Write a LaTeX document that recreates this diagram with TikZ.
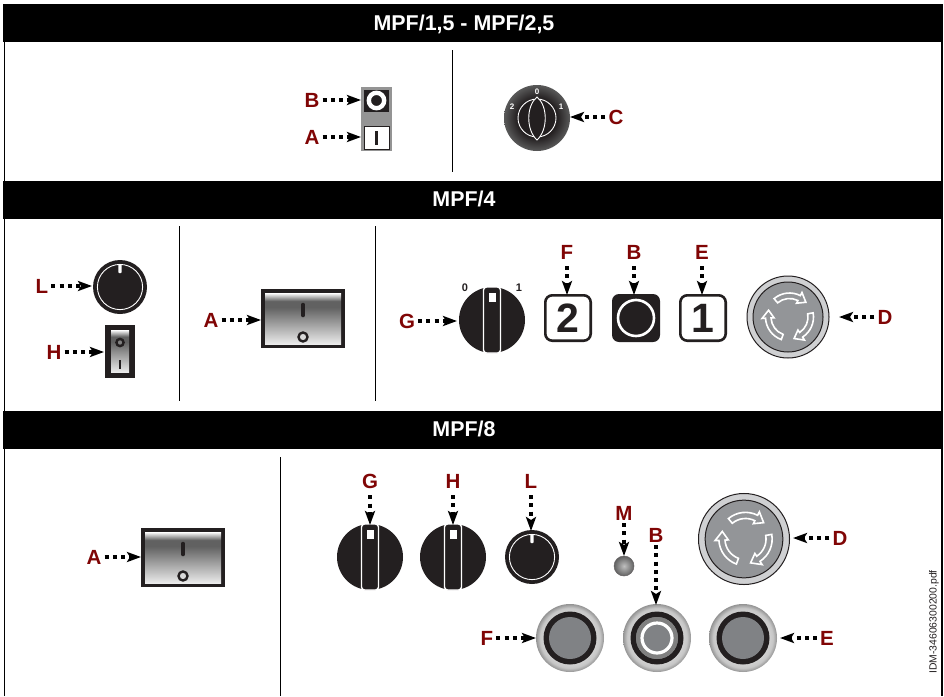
\documentclass[tikz,border=0pt]{standalone}
\usepackage{fontspec}
\setmainfont{Liberation Sans}
\usetikzlibrary{arrows.meta}
\definecolor{ink}{HTML}{231F20}
\definecolor{lab}{HTML}{800505}
\definecolor{mid}{HTML}{939598}
\definecolor{ringg}{HTML}{CFD0D2}
\definecolor{btn}{HTML}{808285}
\pgfdeclareverticalshading{rockshade}{100bp}{color(0bp)=(white); color(25bp)=(white!92!black); color(61bp)=(black!62); color(67bp)=(black!62); color(75bp)=(white); color(100bp)=(white)}
\pgfdeclareradialshading{knobshade}{\pgfpointorigin}{color(0bp)=(ink); color(15bp)=(ink); color(25bp)=(black!65); color(50bp)=(black!65)}
\pgfdeclareradialshading{haloshade}{\pgfpointorigin}{color(0bp)=(black!20); color(19bp)=(black!18); color(22bp)=(black!22); color(25bp)=(black!42); color(50bp)=(black!42)}
\pgfdeclareradialshading{ledshade}{\pgfpointorigin}{color(0bp)=(black!25); color(25bp)=(black!62); color(50bp)=(black!62)}
\tikzset{
  lbl/.style={font=\fontsize{20.5}{21}\selectfont\bfseries,text=lab,inner sep=3pt},
  head/.style={font=\fontsize{21.4}{22}\selectfont\bfseries,text=white,inner sep=0pt},
  arr/.style={line width=3.4pt,dash pattern=on 4pt off 4.2pt,-{Stealth[length=14pt,width=10pt,inset=3pt]}},
  arrv/.style={arr,shorten <=4pt},
  divider/.style={line width=1pt,black},
  frameline/.style={line width=1.2pt,black},
  band/.style={fill=black},
  numw/.style={font=\fontsize{8}{8}\selectfont\bfseries,text=white,inner sep=0pt},
  numb/.style={font=\fontsize{11}{11}\selectfont\bfseries,text=ink,inner sep=0pt},
  digit/.style={font=\fontsize{41}{41}\selectfont\bfseries,text=ink,inner sep=0pt}
}
% rocker switch, top-left corner at #1,#2
\newcommand{\rockerSw}[2]{\begin{scope}[shift={(#1,#2)}]
  \fill[ink] (0,0) rectangle (84,59);
  \shade[shading=rockshade] (4,4) rectangle (80,55);
  \draw[ink,line width=3.5pt,line cap=round] (42,15.5) -- (42,26.5);
  \draw[ink,fill=white!85!black,line width=2.4pt] (42,48) circle (4.5);
\end{scope}}
% pointer knob with handle, centre at #1,#2
\newcommand{\handleKnob}[2]{\begin{scope}[shift={(#1,#2)}]
  \fill[ink] (0,0) circle (33);
  \draw[white,line width=1.4pt,fill=ink,rounded corners=3pt] (-8.5,-33) rectangle (8.5,33);
  \fill[white] (-3.5,-27.5) rectangle (3.5,-18.5);
\end{scope}}
% small round knob, centre at #1,#2
\newcommand{\roundKnob}[2]{\begin{scope}[shift={(#1,#2)}]
  \fill[ink] (0,0) circle (27);
  \draw[white,line width=.9pt] (0,0) circle (22.6);
  \fill[white,rounded corners=.8pt] (-1.6,-23) rectangle (1.6,-14);
\end{scope}}
% emergency button
\newcommand{\rotArrow}{\draw[white,line width=1.6pt,fill=mid,line join=miter]
  (130:18.5) arc[start angle=130,end angle=63,radius=18.5] -- (63:15.5) -- (42:22) -- (63:27.5) -- (63:24)
  arc[start angle=63,end angle=130,radius=24] -- cycle;}
\newcommand{\emergency}[3]{\begin{scope}[shift={(#1,#2)}]
  \fill[ringg,draw=ink,line width=1pt] (0,0) circle (41*#3);
  \fill[mid,draw=ink,line width=1pt] (0,0) circle (35*#3);
  \begin{scope}[shift={(1.5,0)},yscale=-1,scale=#3]
    \rotArrow
    \begin{scope}[rotate=-120]\rotArrow\end{scope}
    \begin{scope}[rotate=120]\rotArrow\end{scope}
  \end{scope}
\end{scope}}
% panel push-button, centre at #1,#2
\newcommand{\panelBtn}[2]{\begin{scope}[shift={(#1,#2)}]
  \shade[shading=haloshade] (0,0) circle (34);
  \fill[ink] (0,0) circle (26.5);
  \fill[btn] (0,0) circle (21);
\end{scope}}
% square numbered button, left-top at #1,#2
\newcommand{\squareBtn}[3]{\begin{scope}[shift={(#1,#2)}]
  \draw[ink,line width=2.6pt,fill=white,rounded corners=7pt] (1.3,1.3) rectangle (46.7,46.7);
  \node[digit] (#3) at (24,24.5) {#3};
\end{scope}}
\begin{document}
\begin{tikzpicture}[x=1pt,y=-1pt]
\useasboundingbox (0,0) rectangle (944,696);
\fill[white] (0,0) rectangle (944,696);
% frame and bands
\coordinate (ftl) at (4.5,42); \coordinate (fbl) at (4.5,696);
\coordinate (ftr) at (942,42); \coordinate (fbr) at (942,696);
\draw[frameline] (ftl) -- (fbl);
\draw[frameline] (ftr) -- (fbr);
\fill[band] (3,4) rectangle (943,42);
\fill[band] (3,181) rectangle (943,219);
\fill[band] (3,411) rectangle (943,449);
\node[head] (h1) at (464,24) {MPF/1,5 - MPF/2,5};
\node[head] (h2) at (464,199) {MPF/4};
\node[head] (h3) at (464,429) {MPF/8};
% dividers
\draw[divider] (452.5,50) -- (452.5,172);
\draw[divider] (179.5,226) -- (179.5,401);
\draw[divider] (375.5,226) -- (375.5,401);
\draw[divider] (280.5,457) -- (280.5,696);

% ---- section 1
\fill[black!42] (361,87) rectangle (392,151);
\fill[ink] (364,90) rectangle (389,112);
\draw[white,line width=4.4pt,fill=ink] (376.5,100.5) circle (7.7);
\fill[black!42] (364,112) rectangle (389,125.5);
\draw[ink,line width=1pt,fill=white] (364,126.5) rectangle (389,149);
\fill[ink] (375.2,131) rectangle (378,145);
\shade[shading=knobshade] (537,118) circle (33);
\draw[white,line width=.9pt] (537,118) circle (19);
\draw[white,line width=.9pt,fill=ink] (537,97) .. controls (526,106) and (526,130) .. (537,140) .. controls (548,130) and (548,106) .. (537,97) -- cycle;
\node[numw] (n0) at (537,91.5) {0};
\node[numw] (n1) at (561,107) {1};
\node[numw] (n2) at (512,107) {2};

\node[lbl] (lb1) at (312,100) {B};
\node[lbl] (la1) at (312,137) {A};
\node[lbl] (lc1) at (616,117) {C};
\coordinate (tb1) at (361,100); \coordinate (ta1) at (361,137); \coordinate (tc1) at (570,117);
\draw[arr] (lb1) -- (tb1);
\draw[arr] (la1) -- (ta1);
\draw[arr] (lc1) -- (tc1);

% ---- section 2
\roundKnob{120}{287}
\fill[ink] (105,325) rectangle (135,378);
\shade[shading=rockshade] (111,330) rectangle (129,372);
\draw[ink,fill=black!50,line width=2.4pt] (120,342.5) circle (3.6);
\fill[ink] (119.3,360) rectangle (120.7,369);
\rockerSw{261}{289}
\handleKnob{492}{320}
\node[numb] (n3) at (465,288) {0};
\node[numb] (n4) at (519,288) {1};
\squareBtn{544}{294}{2}
\fill[ink,rounded corners=7pt] (612,294) rectangle (660,342);
\draw[white,line width=2.6pt] (636,318) circle (18);
\squareBtn{679}{294}{1}
\emergency{788}{317}{1}

\node[lbl] (ll2) at (42,286) {L};
\node[lbl] (lh2) at (54,352) {H};
\node[lbl] (la2) at (211,320) {A};
\node[lbl] (lg2) at (407,321) {G};
\node[lbl] (lf2) at (567,252) {F};
\node[lbl] (lb2) at (634,252) {B};
\node[lbl] (le2) at (702,252) {E};
\node[lbl] (ld2) at (885,317) {D};
\coordinate (tl2) at (92,286); \coordinate (th2) at (104,352); \coordinate (ta2) at (261,320);
\coordinate (tg2) at (457,321); \coordinate (tf2) at (567,295); \coordinate (tb2) at (634,295);
\coordinate (te2) at (702,295); \coordinate (td2) at (839,317);
\draw[arr] (ll2) -- (tl2);
\draw[arr] (lh2) -- (th2);
\draw[arr] (la2) -- (ta2);
\draw[arr] (lg2) -- (tg2);
\draw[arrv] (lf2) -- (tf2);
\draw[arrv] (lb2) -- (tb2);
\draw[arrv] (le2) -- (te2);
\draw[arr] (ld2) -- (td2);

% ---- section 3
\rockerSw{141}{528}
\handleKnob{370}{557}
\handleKnob{453}{557}
\roundKnob{532}{557}
\shade[shading=ledshade] (624,566) circle (10);
\draw[ink!70!white,line width=.5pt] (624,566) circle (10);
\emergency{744}{539}{1.11}
\panelBtn{570}{638}
\panelBtn{657}{638}
\fill[black!50] (657,638) circle (21);
\draw[white,line width=3.2pt,fill=btn] (657,638) circle (15);
\panelBtn{743}{638}

\node[lbl] (la3) at (94,557) {A};
\node[lbl] (lg3) at (370,481) {G};
\node[lbl] (lh3) at (453,481) {H};
\node[lbl] (ll3) at (531,481) {L};
\node[lbl] (lm3) at (624,513) {M};
\node[lbl] (lb3) at (656,535) {B};
\node[lbl] (ld3) at (840,538) {D};
\node[lbl] (lf3) at (487,638) {F};
\node[lbl] (le3) at (827,638) {E};
\coordinate (ta3) at (141,557); \coordinate (tg3) at (370,525); \coordinate (th3) at (453,525);
\coordinate (tl3) at (531,531); \coordinate (tm3) at (624,556); \coordinate (tb3) at (656,605);
\coordinate (td3) at (793,538); \coordinate (tf3) at (536,638); \coordinate (te3) at (780,638);
\draw[arr] (la3) -- (ta3);
\draw[arrv] (lg3) -- (tg3);
\draw[arrv] (lh3) -- (th3);
\draw[arrv] (ll3) -- (tl3);
\draw[arr] (lm3) -- (tm3);
\draw[arr] (lb3) -- (tb3);
\draw[arr] (ld3) -- (td3);
\draw[arr] (lf3) -- (tf3);
\draw[arr] (le3) -- (te3);

\node[rotate=90,font=\fontsize{10.4}{11}\selectfont,text=ink,inner sep=0pt] (idm) at (934,622) {IDM-34606300200.pdf};
\end{tikzpicture}
\end{document}
